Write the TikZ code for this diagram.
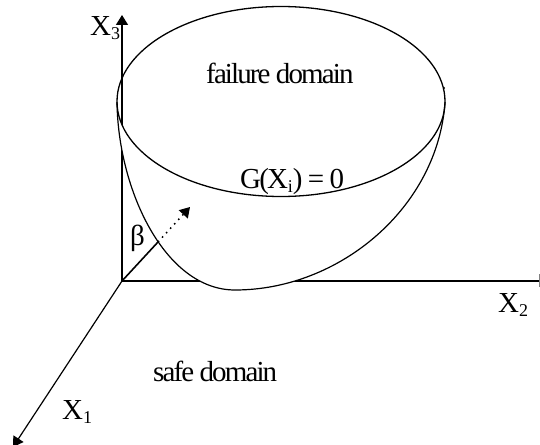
\documentclass[tikz,border=0pt]{standalone}
\usepackage{fontspec}
\setmainfont{Liberation Serif}[LetterSpace=-6.5]
\usetikzlibrary{arrows.meta}
\newcommand{\lowsub}[1]{\raisebox{-4pt}{\fontsize{18}{18}\selectfont #1}}
\tikzset{
  lbl/.style={inner sep=0pt,anchor=base west,font=\fontsize{29}{29}\selectfont,text=black},
  headtip/.tip={Triangle[width=12pt,length=10pt]},
  ax/.style={line width=1.5pt,-headtip},
  ax0/.style={line width=1.5pt},
  bowl/.style={line width=1.2pt},
  x=1pt,y=-1pt
}
\begin{document}
\begin{tikzpicture}
\useasboundingbox (0,0) rectangle (540,444);
\clip (0,0) rectangle (540,444);
\coordinate (O) at (122,281);
\coordinate (X3tip) at (122,15);
\coordinate (X2end) at (540,281);
\coordinate (X1tip) at (13,447);
\coordinate (Bfoot) at (158,242);
\coordinate (Btip) at (190,207);
% axes
\draw[ax] (O) -- (X3tip);
\draw[ax0] (O) -- (X2end);
\draw[line width=1.2pt,-headtip] (O) -- (X1tip);
\draw[gray,line width=1pt] (539.5,274) -- (539.5,287);
% bowl hides the axes behind it
\fill[white] (117,102) arc[start angle=180,end angle=0,x radius=164,y radius=95] .. controls (438,207) and (340,290) .. (235,290) .. controls (165,290) and (118,190) .. (117,102) -- cycle;
% beta line
\draw[line width=1.6pt] (O) -- (Bfoot);
\draw[line width=1.5pt,dash pattern=on 1.5pt off 4.5pt,-headtip] (Bfoot) -- (Btip);
% surface
\draw[bowl] (117,102) .. controls (118,190) and (165,290) .. (235,290)
   .. controls (340,290) and (438,207) .. (445,102);
\draw[line width=1.3pt] (281,101.5) ellipse[x radius=164,y radius=95];
\fill (444,88) circle[radius=1.2];
% labels
\node[lbl] (x3) at (90,36) {X\lowsub{3}};
\node[lbl] (x2) at (498,312) {X\lowsub{2}};
\node[lbl] (x1) at (62,419) {X\lowsub{1}};
\node[lbl] (beta) at (130,245) {β};
\node[lbl] (fd) at (206,83) {failure domain};
\node[lbl] (g) at (240,188) {G(X\lowsub{i}) = 0};
\node[lbl] (sd) at (153,381) {safe domain};
\end{tikzpicture}
\end{document}
